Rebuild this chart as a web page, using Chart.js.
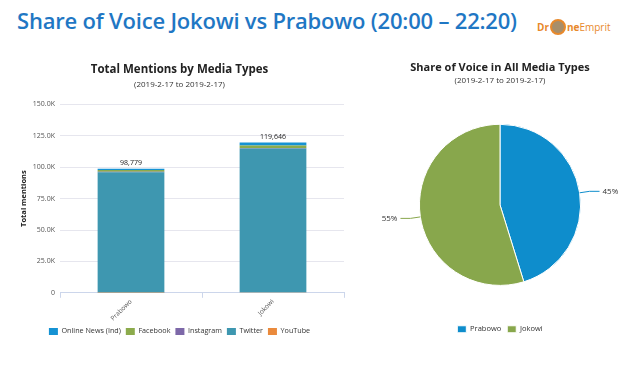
<!DOCTYPE html>
<html><head><meta charset="utf-8">
<script src="https://cdn.jsdelivr.net/npm/chart.js@4/dist/chart.umd.min.js"></script>
<style>
html,body{margin:0;padding:0;background:#fff;width:640px;height:380px;overflow:hidden;font-family:"Open Sans",sans-serif}
#title{position:absolute;left:17px;top:5px;font-size:22px;font-weight:600;color:#1f77c4;white-space:nowrap;letter-spacing:-0.2px}
#logo{position:absolute;left:537px;top:19px;font-size:10px;white-space:nowrap;font-family:"Open Sans",sans-serif}
#logo .a{color:#e8892b;font-weight:700}
#logo .b{color:#e8892b}
#logo .o{display:inline-block;width:12px;height:12px;border:2px solid #e8892b;border-radius:50%;vertical-align:-4px;margin:0 1px;background:#a88e6a}
#c1{position:absolute;left:15px;top:55px}
#c2{position:absolute;left:360px;top:55px}
</style></head>
<body>
<div id="title">Share of Voice Jokowi vs Prabowo (20:00 – 22:20)</div>
<div id="logo"><span class="a">Dr</span><span class="o"></span><span class="a">ne</span><span class="b">Emprit</span></div>
<canvas id="c1" width="335" height="290"></canvas>
<canvas id="c2" width="280" height="290"></canvas>
<script>
const categories = ["Prabowo", "Jokowi"];
const onlineNews = [1000, 2300];
const facebook = [1500, 2000];
const instagram = [300, 500];
const twitter = [95900, 114700];
const youtube = [79, 146];
const totals = [98779, 119646];
const yTicks = [0, 25000, 50000, 75000, 100000, 125000, 150000];
const pieLabels = ["Prabowo", "Jokowi"];
const pieValues = [98779, 119646];
const piePercent = ["45%", "55%"];

const F = '"Open Sans", "DejaVu Sans", sans-serif';

const totalLabels = {
  id: 'totalLabels',
  afterDatasetsDraw(chart) {
    const ctx = chart.ctx, x = chart.scales.x, y = chart.scales.y;
    ctx.save();
    ctx.font = '7px ' + F;
    ctx.fillStyle = '#222';
    ctx.textAlign = 'center';
    ctx.textBaseline = 'bottom';
    totals.forEach((t, i) => {
      ctx.fillText(t.toLocaleString('en-US'), x.getPixelForValue(i), y.getPixelForValue(t) - 2);
    });
    ctx.restore();
  }
};

new Chart(document.getElementById('c1'), {
  type: 'bar',
  data: {
    labels: categories,
    datasets: [
      {label: 'YouTube', data: youtube, backgroundColor: '#ea8a3c'},
      {label: 'Twitter', data: twitter, backgroundColor: '#3e97b0'},
      {label: 'Instagram', data: instagram, backgroundColor: '#7d68a8'},
      {label: 'Facebook', data: facebook, backgroundColor: '#8cab4c'},
      {label: 'Online News (Ind)', data: onlineNews, backgroundColor: '#1592d3'}
    ]
  },
  options: {
    responsive: false, animation: false,
    layout: {padding: {left: 0, right: 6, top: 0, bottom: 0}},
    datasets: {bar: {barPercentage: 0.47, categoryPercentage: 1.0, borderWidth: 0}},
    plugins: {
      title: {display: true, text: 'Total Mentions by Media Types', color: '#222', font: {family: F, size: 11.5, weight: 'bold'}, padding: {top: 8, bottom: 3}},
      subtitle: {display: true, text: '(2019-2-17 to 2019-2-17)', color: '#333', font: {family: F, size: 8}, padding: {bottom: 15}},
      legend: {position: 'bottom', reverse: true,
        labels: {boxWidth: 9, boxHeight: 7, padding: 5, color: '#333', font: {family: F, size: 7.2}}},
      tooltip: {enabled: false}
    },
    scales: {
      x: {stacked: true,
        afterFit: s => { s.height = 30; },
        grid: {display: true, drawOnChartArea: false, color: '#ccd6eb', tickLength: 5, offset: true},
        border: {color: '#ccd6eb'},
        ticks: {color: '#555', font: {family: F, size: 6.5}, maxRotation: 45, minRotation: 45, padding: 0}},
      y: {stacked: true, min: 0, max: 150000,
        afterFit: s => { s.width = 45; },
        afterBuildTicks: (s) => { s.ticks = yTicks.map(v => ({value: v})); },
        grid: {color: '#e6e6ee', drawTicks: false},
        border: {display: false},
        title: {display: true, text: 'Total mentions', color: '#222', font: {family: F, size: 7.5, weight: 'bold'}},
        ticks: {color: '#555', font: {family: F, size: 7}, padding: 5,
          callback: v => v === 0 ? '0' : (v / 1000).toFixed(1) + 'K'}}
    }
  },
  plugins: [totalLabels]
});

const pieLabelsPlugin = {
  id: 'pieLabelsPlugin',
  afterDatasetsDraw(chart) {
    const ctx = chart.ctx;
    const meta = chart.getDatasetMeta(0);
    ctx.save();
    ctx.font = '8px ' + F;
    ctx.fillStyle = '#333';
    ctx.textBaseline = 'middle';
    meta.data.forEach((arc, i) => {
      const a = (arc.startAngle + arc.endAngle) / 2;
      const r = arc.outerRadius;
      const x0 = arc.x + Math.cos(a) * r, y0 = arc.y + Math.sin(a) * r;
      const x1 = arc.x + Math.cos(a) * (r + 10), y1 = arc.y + Math.sin(a) * (r + 10);
      const right = Math.cos(a) >= 0;
      const x2 = x1 + (right ? 10 : -10);
      ctx.strokeStyle = arc.options.backgroundColor;
      ctx.lineWidth = 1;
      ctx.beginPath(); ctx.moveTo(x0, y0); ctx.lineTo(x1, y1); ctx.lineTo(x2, y1); ctx.stroke();
      ctx.textAlign = right ? 'left' : 'right';
      ctx.fillText(piePercent[i], x2 + (right ? 3 : -3), y1);
    });
    ctx.restore();
  }
};

new Chart(document.getElementById('c2'), {
  type: 'pie',
  data: {labels: pieLabels, datasets: [{data: pieValues, backgroundColor: ['#0e8dcc', '#88a74c'], borderColor: '#fff', borderWidth: 1}]},
  options: {
    responsive: false, animation: false,
    layout: {padding: {left: 40, right: 40, top: 0, bottom: 2}},
    plugins: {
      title: {display: true, text: 'Share of Voice in All Media Types', color: '#222', font: {family: F, size: 11, weight: 'bold'}, padding: {top: 6, bottom: 2}},
      subtitle: {display: true, text: '(2019-2-17 to 2019-2-17)', color: '#333', font: {family: F, size: 8}, padding: {bottom: 38}},
      legend: {position: 'bottom',
        title: {display: true, text: ' ', font: {family: F, size: 8}, padding: {top: 12, bottom: 12}},
        labels: {boxWidth: 9, boxHeight: 7, padding: 6, color: '#333', font: {family: F, size: 7.5}}},
      tooltip: {enabled: false}
    }
  },
  plugins: [pieLabelsPlugin]
});
</script>
</body></html>
